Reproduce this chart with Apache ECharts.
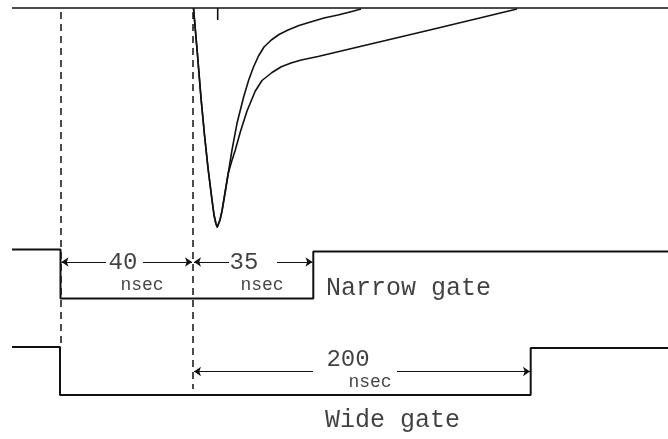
<!DOCTYPE html>
<html>
<head>
<meta charset="utf-8">
<script src="https://cdn.jsdelivr.net/npm/echarts@6/dist/echarts.min.js"></script>
<style>
html,body{margin:0;padding:0;background:#fff;}
#chart{width:668px;height:439px;}
</style>
</head>
<body>
<div id="chart"></div>
<script>
// Schematic units (horizontal = time axis of the diagram, vertical = signal level, downwards positive)
const baseline = [[12, 8], [668, 8]];
const pulseFast = [[193.5, 8], [197.5, 55], [201, 98], [204.5, 135], [208, 168], [211.5, 196], [214, 215], [216, 224], [217.3, 227], [218.6, 225.5], [220, 220], [222, 211], [225, 193], [228.3, 173], [232, 150], [237, 123.3], [243.7, 96.7], [248.7, 80], [253.5, 67], [258.5, 56], [264, 47], [271.3, 40], [279, 34.5], [288, 30], [299, 25.5], [311.3, 21.7], [324, 18], [338, 15], [350, 12], [361, 9]];
const pulseSlow = [[193.5, 8], [197.5, 55], [201, 98], [204.5, 135], [208, 168], [211.5, 196], [214, 215], [216, 224], [217.3, 227], [218.6, 225.5], [220, 220], [222, 211], [225, 193], [228.3, 173], [231.5, 162], [235.3, 150], [240.3, 132], [247, 111], [255.3, 91], [262, 80.5], [272, 72.5], [281.3, 66.7], [291, 63], [301.3, 60], [318, 56.5], [338, 51.7], [434, 29], [517, 9]];
const tickMark = [[217.7, 8], [217.7, 20]];
const narrowGate = [[12, 249.5], [60.5, 249.5], [60.5, 298.5], [313.3, 298.5], [313.3, 251.5], [668, 251.5]];
const wideGate = [[12, 347], [60, 347], [60, 395], [530.7, 395], [530.7, 348], [668, 348]];
const dashed1 = [[61, 12], [61, 347]];
const dashed2 = [[193, 12], [193, 389]];
// arrow segments: [start, end(arrowhead)]
const arrowSegs = [
  [[106, 262], [61.5, 262]], [[143, 262], [192, 262]],
  [[229, 262], [194, 262]], [[277, 262], [312.5, 262]],
  [[313, 371.5], [194, 371.5]], [[397, 371.5], [530, 371.5]]
];
const bigLabels = [{value: [123, 262.5], name: '40'}, {value: [244, 262.5], name: '35'}, {value: [348, 360], name: '200'}];
const smallLabels = [{value: [142, 285], name: 'nsec'}, {value: [262, 285], name: 'nsec'}, {value: [370, 382], name: 'nsec'}];
const gateLabels = [{value: [326, 288.5], name: 'Narrow gate'}, {value: [325, 420], name: 'Wide gate'}];

const INK = '#111';
const FONT = '"Liberation Mono", "DejaVu Sans Mono", monospace';

function lineSeries(data, width, dashed) {
  return {
    type: 'line', data: data, symbol: 'none', smooth: false, silent: true,
    lineStyle: {color: INK, width: width, type: dashed ? [7, 5] : 'solid'},
    animation: false
  };
}
function curveSeries(data) {
  return {
    type: 'line', data: data, symbol: 'none', smooth: false, silent: true,
    lineStyle: {color: INK, width: 1.6, join: 'round'}, animation: false
  };
}
function textSeries(data, size, align) {
  return {
    type: 'scatter', data: data, symbolSize: 0, silent: true, animation: false,
    itemStyle: {color: 'transparent'},
    label: {show: true, position: 'inside', formatter: '{b}', color: INK,
      fontFamily: FONT, fontSize: size, align: align || 'center', verticalAlign: 'middle'}
  };
}

const chart = echarts.init(document.getElementById('chart'), null, {renderer: 'canvas'});
chart.setOption({
  backgroundColor: '#fff',
  animation: false,
  grid: {left: 0, right: 0, top: 0, bottom: 0},
  xAxis: {type: 'value', min: 0, max: 668, show: false},
  yAxis: {type: 'value', min: 0, max: 439, inverse: true, show: false},
  series: [
    lineSeries(baseline, 1.6),
    lineSeries(dashed1, 1.5, true),
    lineSeries(dashed2, 1.5, true),
    curveSeries(pulseFast),
    curveSeries(pulseSlow),
    lineSeries(tickMark, 1.6),
    lineSeries(narrowGate, 2),
    lineSeries(wideGate, 2),
    {
      type: 'lines', coordinateSystem: 'cartesian2d', silent: true, animation: false,
      symbol: ['none', 'arrow'], symbolSize: 7,
      lineStyle: {color: INK, width: 1.2, opacity: 1},
      data: arrowSegs.map(s => ({coords: s}))
    },
    textSeries(bigLabels, 24),
    textSeries(smallLabels, 18),
    textSeries(gateLabels, 25, 'left')
  ]
});
</script>
</body>
</html>
